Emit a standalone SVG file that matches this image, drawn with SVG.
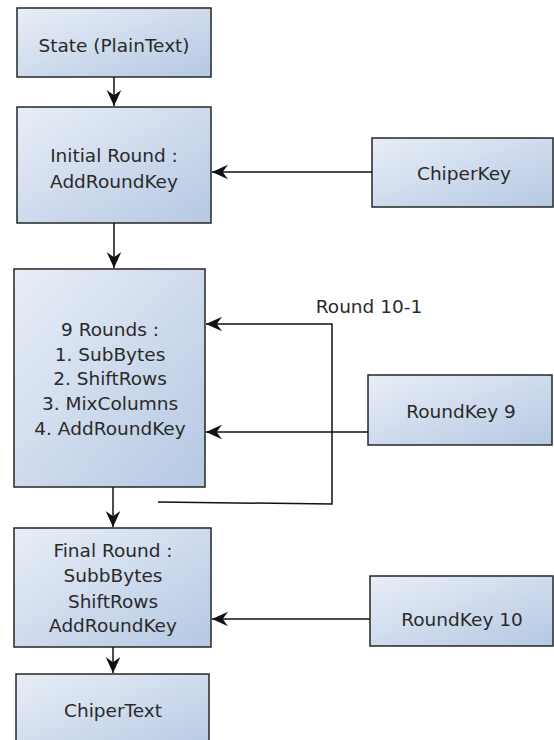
<svg xmlns="http://www.w3.org/2000/svg" width="554" height="740" viewBox="0 0 554 740">
<defs>
<linearGradient id="g" x1="0" y1="0" x2="1" y2="1">
<stop offset="0" stop-color="#e8eef7"/>
<stop offset="1" stop-color="#b6c8e3"/>
</linearGradient>
<marker id="ah" viewBox="0 0 12 12" refX="12" refY="6" markerWidth="16" markerHeight="16" markerUnits="userSpaceOnUse" orient="auto">
<path d="M0,0.5 L12,6 L0,11.5 L4,6 z" fill="#111"/>
</marker>
<style>
.box{fill:url(#g);stroke:#262626;stroke-width:1.5}
.t{font-family:"DejaVu Sans",Verdana,sans-serif;font-size:18.5px;fill:#2a2a2a;text-anchor:middle}
.c{fill:none;stroke:#111;stroke-width:1.5}
</style>
</defs>
<rect width="554" height="740" fill="#fff"/>
<g id="state">
<rect class="box" x="17" y="8" width="194" height="69"/>
<text class="t" x="114" y="52">State (PlainText)</text>
</g>
<g id="initial">
<rect class="box" x="17" y="107" width="194" height="116"/>
<text class="t" x="114" y="162">Initial Round :</text>
<text class="t" x="114" y="188">AddRoundKey</text>
</g>
<g id="chiperkey">
<rect class="box" x="372" y="138" width="181" height="69"/>
<text class="t" x="464" y="180">ChiperKey</text>
</g>
<g id="rounds9">
<rect class="box" x="14" y="269" width="191" height="218"/>
<text class="t" x="110" y="336">9 Rounds :</text>
<text class="t" x="110" y="361">1. SubBytes</text>
<text class="t" x="110" y="385">2. ShiftRows</text>
<text class="t" x="110" y="410">3. MixColumns</text>
<text class="t" x="110" y="435">4. AddRoundKey</text>
</g>
<g id="roundkey9">
<rect class="box" x="368" y="375" width="184" height="70"/>
<text class="t" x="461" y="418">RoundKey 9</text>
</g>
<g id="final">
<rect class="box" x="14" y="528" width="197" height="119"/>
<text class="t" x="113" y="557">Final Round :</text>
<text class="t" x="113" y="582">SubbBytes</text>
<text class="t" x="113" y="608">ShiftRows</text>
<text class="t" x="113" y="632">AddRoundKey</text>
</g>
<g id="roundkey10">
<rect class="box" x="370" y="576" width="183" height="70"/>
<text class="t" x="462" y="626">RoundKey 10</text>
</g>
<g id="chipertext">
<rect class="box" x="16" y="674" width="193" height="80"/>
<text class="t" x="113" y="717">ChiperText</text>
</g>
<g id="connectors">
<line class="c" x1="114" y1="77" x2="114" y2="106" marker-end="url(#ah)"/>
<line class="c" x1="372" y1="172" x2="212" y2="172" marker-end="url(#ah)"/>
<line class="c" x1="114" y1="223" x2="114" y2="268" marker-end="url(#ah)"/>
<polyline class="c" points="158,502 332,504 332,324 206,324" marker-end="url(#ah)"/>
<line class="c" x1="368" y1="432" x2="206" y2="432" marker-end="url(#ah)"/>
<line class="c" x1="113" y1="487" x2="113" y2="527" marker-end="url(#ah)"/>
<line class="c" x1="370" y1="619" x2="212" y2="619" marker-end="url(#ah)"/>
<line class="c" x1="113" y1="647" x2="113" y2="673" marker-end="url(#ah)"/>
<text class="t" x="369" y="313">Round 10-1</text>
</g>
</svg>
